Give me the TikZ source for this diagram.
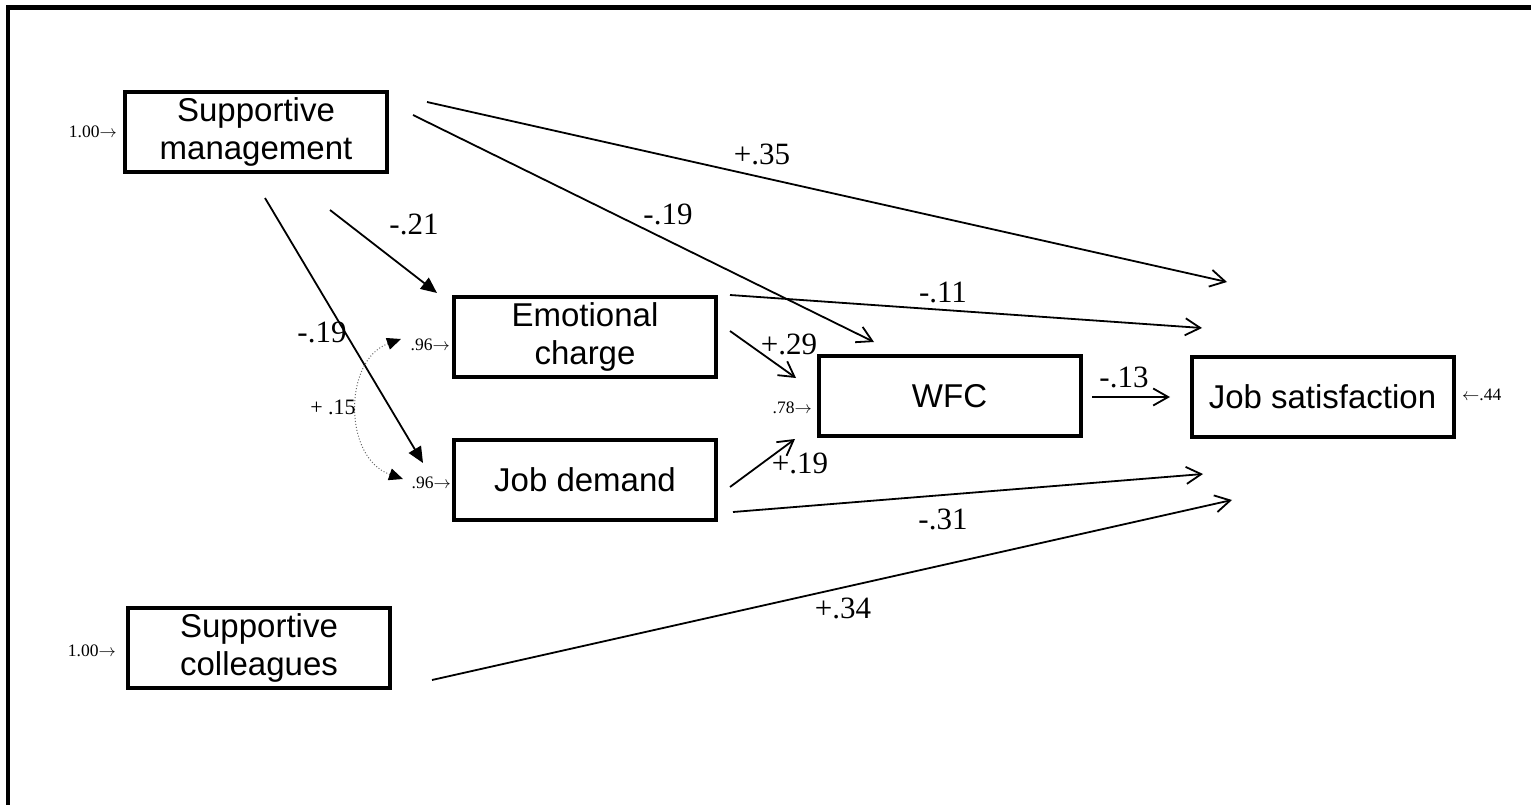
\documentclass[tikz,border=0pt]{standalone}
\usepackage{fontspec}
\setmainfont{Liberation Serif}
\newfontfamily\boxfont{Liberation Sans}
\usetikzlibrary{arrows.meta}

\tikzset{
    sembox/.style={draw, line width=4pt, minimum width=262pt, minimum height=80pt,
                   inner sep=0pt, align=center, font=\boxfont\fontsize{33}{38}\selectfont},
    pathopen/.style={line width=1.8pt, -{Straight Barb[length=15pt, width=17pt]}},
    pathfill/.style={line width=1.8pt, -{Triangle[length=16pt, width=14pt]}},
    coef/.style={inner sep=0pt, font=\fontsize{31}{31}\selectfont},
    resid/.style={inner sep=0pt, font=\fontsize{17.5}{17.5}\selectfont},
}

\begin{document}
\begin{tikzpicture}[x=1pt, y=-1pt]

    \useasboundingbox (0,0) rectangle (1531,805);

    % ── Frame (top and left edge only) ───────────────────────────────────────
    \draw[line width=4.5pt] (8,805) -- (8,7.5) -- (1531,7.5);

    % ── Boxes ────────────────────────────────────────────────────────────────
    \node[sembox] (sm)  at (256,132)     {Supportive\\management};
    \node[sembox] (ec)  at (585,337)     {Emotional\\charge};
    \node[sembox] (jd)  at (585,480)     {Job demand};
    \node[sembox] (wfc) at (949.5,396)   {WFC};
    \node[sembox] (js)  at (1322.5,397)  {Job satisfaction};
    \node[sembox] (sc)  at (259,647.5)   {Supportive\\colleagues};

    % ── Residuals ────────────────────────────────────────────────────────────
    \node[resid, anchor=east] (r-sm)  at (117,132)  {1.00$\rightarrow$};
    \node[resid, anchor=east] (r-sc)  at (116,651)  {1.00$\rightarrow$};
    \node[resid, anchor=east] (r-ec)  at (450,345)  {.96$\rightarrow$};
    \node[resid, anchor=east] (r-jd)  at (451,483)  {.96$\rightarrow$};
    \node[resid, anchor=east] (r-wfc) at (812,408)  {.78$\rightarrow$};
    \node[resid, anchor=west] (r-js)  at (1462,395) {$\leftarrow$.44};

    % ── End points of the paths ──────────────────────────────────────────────
    \coordinate (sm-ec-a)  at (330,210);   \coordinate (sm-ec-b)  at (437,293);
    \coordinate (sm-jd-a)  at (265,198);   \coordinate (sm-jd-b)  at (423,463);
    \coordinate (sm-wfc-a) at (413,115);   \coordinate (sm-wfc-b) at (874,342);
    \coordinate (sm-js-a)  at (427,102);   \coordinate (sm-js-b)  at (1227,282);
    \coordinate (ec-js-a)  at (730,295);   \coordinate (ec-js-b)  at (1202,328);
    \coordinate (ec-wfc-a) at (730,331);   \coordinate (ec-wfc-b) at (796,378);
    \coordinate (jd-wfc-a) at (730,487);   \coordinate (jd-wfc-b) at (795,439);
    \coordinate (jd-js-a)  at (733,512);   \coordinate (jd-js-b)  at (1203,474);
    \coordinate (sc-js-a)  at (432,680);   \coordinate (sc-js-b)  at (1232,500);
    \coordinate (wfc-js-a) at (1092,397);  \coordinate (wfc-js-b) at (1170,397);
    \coordinate (cov-a)    at (401,339);   \coordinate (cov-b)    at (403,479);

    % ── Paths ────────────────────────────────────────────────────────────────
    \draw[pathfill] (sm-ec-a)  -- (sm-ec-b);
    \draw[pathfill] (sm-jd-a)  -- (sm-jd-b);
    \draw[pathopen] (sm-wfc-a) -- (sm-wfc-b);
    \draw[pathopen] (sm-js-a)  -- (sm-js-b);
    \draw[pathopen] (ec-js-a)  -- (ec-js-b);
    \draw[pathopen] (ec-wfc-a) -- (ec-wfc-b);
    \draw[pathopen] (jd-wfc-a) -- (jd-wfc-b);
    \draw[pathopen] (jd-js-a)  -- (jd-js-b);
    \draw[pathopen] (sc-js-a)  -- (sc-js-b);
    \draw[pathopen] (wfc-js-a) -- (wfc-js-b);

    % Covariance (dotted, both ends)
    \draw[dotted, line width=1pt, black!60,
          {Triangle[length=14pt, width=12pt, color=black]}-{Triangle[length=14pt, width=12pt, color=black]}]
        (cov-a) .. controls (343,360) and (343,458) .. (cov-b);

    % ── Coefficients ─────────────────────────────────────────────────────────
    \node[coef] (c-sm-ec)  at (414,224)  {-.21};
    \node[coef] (c-sm-jd)  at (322,332)  {-.19};
    \node[coef] (c-sm-wfc) at (668,214)  {-.19};
    \node[coef] (c-sm-js)  at (762,154)  {+.35};
    \node[coef] (c-ec-js)  at (943,292)  {-.11};
    \node[coef] (c-ec-wfc) at (789,344)  {+.29};
    \node[coef] (c-jd-wfc) at (800,463)  {+.19};
    \node[coef] (c-jd-js)  at (943,519)  {-.31};
    \node[coef] (c-sc-js)  at (843,608)  {+.34};
    \node[coef] (c-wfc-js) at (1124,377) {-.13};
    \node[resid, font=\fontsize{22}{22}\selectfont] (c-cov) at (333,407) {+ .15};

\end{tikzpicture}
\end{document}
